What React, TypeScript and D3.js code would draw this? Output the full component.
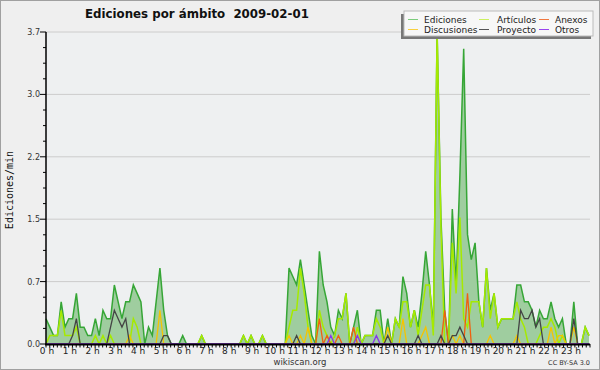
import React from "react";
import * as d3 from "d3";

// values per 10 minutes (edits/min), index 0 = 00:00
const ediciones = [
  0.3,0.2,0.1,0.1,0.5,0.2,0.3,0.3,0.6,0.2,0.2,0.1,
  0.1,0.3,0.1,0.4,0.3,0.3,0.7,0.5,0.3,0.5,0.5,0.7,
  0.6,0.5,0,0.2,0.1,0.5,0.9,0.4,0.1,0,0,0,
  0.1,0,0,0,0,0.1,0,0,0,0,0,0,
  0,0,0,0,0.1,0,0.1,0,0,0.1,0,0,
  0,0,0,0,0.9,0.8,0.7,1.0,0.7,0.4,0.1,0,
  1.1,0.7,0.5,0.2,0.1,0.4,0.3,0.6,0,0.2,0.4,0,
  0.1,0.1,0.1,0.4,0.4,0,0.3,0,0.3,0.2,0.8,0.6,
  0.2,0.4,0.2,0.6,1.1,0.7,0.2,3.7,1.5,0.4,0,1.6,
  0.7,2.0,3.5,1.3,1.0,1.2,0.5,0.2,0.9,0.4,0.6,0.2,
  0.3,0.3,0.3,0.3,0.7,0.7,0.5,0.5,0.4,0.2,0.4,0.3,
  0.3,0.5,0.3,0.2,0.3,0,0,0.5,0,0,0.2,0.1,
];
const articulos = [
  0,0.1,0.1,0.1,0.4,0.1,0.1,0.1,0.2,0,0,0,
  0,0.1,0,0.1,0,0.1,0,0,0,0,0,0.3,
  0.2,0,0,0,0,0,0,0,0,0,0,0,
  0,0,0,0,0,0.1,0,0,0,0,0,0,
  0,0,0,0,0.1,0,0.1,0,0,0.1,0,0,
  0,0,0,0,0.2,0.4,0.4,0.9,0.6,0.2,0,0,
  0.4,0.2,0.1,0,0.1,0.3,0.3,0.6,0,0,0.2,0,
  0.1,0.1,0.1,0.3,0.2,0,0,0,0.3,0.2,0.5,0.5,
  0.2,0.4,0.1,0.4,0.7,0.7,0.1,3.7,1.4,0,0,1.2,
  0.6,1.5,0.3,0.2,0.5,0.5,0.5,0.2,0.9,0.3,0.6,0.2,
  0.3,0.3,0.3,0.3,0.5,0.3,0.2,0,0,0,0.1,0.2,
  0.2,0.3,0.2,0,0.1,0,0,0,0,0,0.2,0.1,
];
const discusiones = [
  0,0,0,0,0,0,0,0,0,0,0,0,
  0,0,0,0,0,0,0,0,0,0,0.1,0,
  0,0,0,0,0,0,0.4,0,0,0,0,0,
  0,0,0,0,0,0,0,0,0,0,0,0,
  0,0,0,0,0,0,0,0,0,0,0,0,
  0,0,0,0,0.1,0,0,0.1,0,0.2,0,0,
  0,0,0,0,0,0,0,0,0,0,0,0,
  0,0,0,0,0,0,0.2,0,0,0,0.3,0,
  0,0,0,0.1,0.2,0,0,0,0,0,0,0.1,
  0,0.1,0,0,0,0,0,0,0,0.1,0,0,
  0,0,0,0,0.1,0,0,0,0,0,0,0,
  0,0.2,0,0.1,0.1,0,0,0.2,0,0,0,0,
];
const proyecto = [
  0,0,0,0,0,0,0,0.1,0.3,0,0,0,
  0,0,0,0,0,0.2,0.4,0.3,0.2,0.3,0,0,
  0,0,0,0,0,0,0,0.1,0.1,0,0,0,
  0,0,0,0,0,0,0,0,0,0,0,0,
  0,0,0,0,0,0,0,0,0,0,0,0,
  0,0,0,0,0,0,0.1,0,0,0,0,0,
  0,0,0,0,0,0,0,0,0,0,0,0,
  0,0,0,0,0,0,0.1,0,0,0,0,0,
  0,0,0.1,0,0,0,0,0,0.1,0,0,0.1,
  0.1,0.2,0.1,0,0,0,0,0,0,0,0,0,
  0,0,0,0,0,0.4,0.3,0.3,0.4,0.2,0.3,0,
  0,0,0,0,0,0,0,0.3,0,0,0,0,
];
const anexos = [
  0,0,0,0,0,0,0,0,0,0,0,0,
  0,0,0,0,0,0,0,0,0,0,0,0,
  0,0,0,0,0,0,0,0,0,0,0,0,
  0,0,0,0,0,0,0,0,0,0,0,0,
  0,0,0,0,0,0,0,0,0,0,0,0,
  0,0,0,0,0,0,0,0,0,0,0,0,
  0.3,0,0.1,0,0,0.1,0,0,0,0.2,0,0,
  0,0,0,0,0,0,0,0,0,0,0,0,
  0,0,0,0,0,0,0,0,0,0.4,0,0,
  0,0,0,0.6,0,0,0,0,0,0,0,0,
  0,0,0,0,0,0,0,0,0,0,0,0,
  0,0,0,0,0,0,0,0,0,0,0,0,
];
const otros = [
  0,0,0,0,0,0,0,0,0,0,0,0,
  0,0,0,0,0,0,0,0,0,0,0,0,
  0,0,0,0,0,0,0,0,0,0,0,0,
  0,0,0,0,0,0,0,0,0,0,0,0,
  0,0,0,0,0,0,0,0,0,0,0,0,
  0,0,0,0,0,0,0,0,0,0,0,0,
  0,0,0,0.1,0,0,0,0,0,0,0.1,0,
  0,0,0,0.1,0,0,0,0,0,0,0,0,
  0,0,0,0,0,0,0,0,0,0,0,0,
  0,0,0,0,0,0,0,0,0,0,0,0,
  0,0,0,0,0,0,0,0,0,0,0,0,
  0,0,0,0,0,0,0,0,0,0,0,0,
];

const hourLabels = [
  "0 h","1 h","2 h","3 h","4 h","5 h","6 h","7 h","8 h","9 h","10 h","11 h",
  "12 h","13 h","14 h","15 h","16 h","17 h","18 h","19 h","20 h","21 h","22 h","23 h",
];
const yTickLabels = ["0.0", "0.7", "1.5", "2.2", "3.0", "3.7"];
const yMax = 3.7;

const legendItems = [
  { name: "Ediciones", color: "#7ccc7c", col: 0, row: 0 },
  { name: "Artículos", color: "#ccf060", col: 1, row: 0 },
  { name: "Anexos", color: "#f07840", col: 2, row: 0 },
  { name: "Discusiones", color: "#f8d040", col: 0, row: 1 },
  { name: "Proyecto", color: "#555555", col: 1, row: 1 },
  { name: "Otros", color: "#9944ee", col: 2, row: 1 },
];

const W = 600, H = 370;
const X0 = 46, X1 = 589, XEND = 590, Y0 = 344, Y1 = 32;

export default function App() {
  const x = d3.scaleLinear().domain([0, 1430]).range([X0, X1]);
  const y = d3.scaleLinear().domain([0, yMax]).range([Y0, Y1]);
  const mk = (arr: number[]) =>
    d3.line<number>().x((_, i) => x(i * 10)).y((d) => y(d))(arr) || "";
  const area = d3
    .area<number>()
    .x((_, i) => x(i * 10))
    .y0(Y0)
    .y1((d) => y(d))(ediciones) || "";

  const majorVals = yTickLabels.map((_, k) => (yMax * k) / 5);
  const minorVals: number[] = [];
  for (let k = 0; k < 5; k++)
    for (let m = 1; m < 4; m++) minorVals.push((yMax * (k + m / 4)) / 5);

  const xTicks: number[] = [];
  for (let t = 0; t <= 1440; t += 10) xTicks.push(t);
  const xs = d3.scaleLinear().domain([0, 1440]).range([X0, XEND]);

  const legSw = [408, 479, 539];
  const legTx = [424, 497, 555];
  const legRows = [19.5, 29.5];

  return (
    <svg
      width={W}
      height={H}
      style={{ position: "fixed", left: 0, top: 0 }}
      fontFamily="DejaVu Sans, sans-serif"
    >
      <rect x={0.5} y={0.5} width={W - 1} height={H - 1} fill="#efefef" stroke="#a0a0a0" />
      <rect x={X0} y={Y1} width={XEND - X0} height={Y0 - Y1} fill="#eef0f1" />
      {majorVals.slice(1).map((v, k) => (
        <line key={k} x1={X0} x2={XEND} y1={y(v)} y2={y(v)} stroke="#cccccc" strokeWidth={1} />
      ))}
      <path d={area} fill="#9fcd9f" />
      <path d={mk(ediciones)} fill="none" stroke="#36a636" strokeWidth={1.5} />
      <path d={mk(articulos)} fill="none" stroke="#a6ea00" strokeWidth={1.5} />
      <path d={mk(discusiones)} fill="none" stroke="#f5c400" strokeWidth={1.3} />
      <path d={mk(anexos)} fill="none" stroke="#f06010" strokeWidth={1.3} />
      <path d={mk(proyecto)} fill="none" stroke="#444444" strokeWidth={1.3} />
      <path d={mk(otros)} fill="none" stroke="#8833ee" strokeWidth={1.3} />

      {/* y axis */}
      <line x1={X0} x2={X0} y1={Y1} y2={Y0} stroke="#000" strokeWidth={1.5} />
      {majorVals.map((v, k) => (
        <g key={k}>
          <line x1={X0 - 6} x2={X0} y1={y(v)} y2={y(v)} stroke="#000" />
          <text x={X0 - 6} y={y(v) + 3} fontSize={8} textAnchor="end" fill="#333">
            {yTickLabels[k]}
          </text>
        </g>
      ))}
      {minorVals.map((v, k) => (
        <line key={k} x1={X0 - 3} x2={X0} y1={y(v)} y2={y(v)} stroke="#000" />
      ))}
      <text
        transform={`translate(13,190) rotate(-90)`}
        fontSize={10}
        fontFamily="DejaVu Sans Mono, monospace"
        textAnchor="middle"
        fill="#111"
      >
        Ediciones/min
      </text>

      {/* x axis */}
      <line x1={X0 - 1} x2={XEND} y1={Y0 + 0.5} y2={Y0 + 0.5} stroke="#000" strokeWidth={2} />
      {xTicks.map((t) => (
        <line key={t} x1={xs(t)} x2={xs(t)} y1={Y0} y2={Y0 + 3.5} stroke="#000" />
      ))}
      {hourLabels.map((lab, h) => (
        <text key={h} x={x(h * 60) + 1} y={354} fontSize={9} textAnchor="middle" fill="#222">
          {lab}
        </text>
      ))}

      {/* titles */}
      <text x={85} y={18} fontSize={11.8} fontWeight="bold" fill="#111" style={{ whiteSpace: "pre" }}>
        {"Ediciones por ámbito  2009-02-01"}
      </text>
      <text x={300} y={365} fontSize={8.5} textAnchor="middle" fill="#333">
        wikiscan.org
      </text>
      <text x={590} y={365} fontSize={6.5} textAnchor="end" fill="#333">
        CC BY-SA 3.0
      </text>

      {/* legend */}
      <rect x={401} y={14} width={190} height={25} fill="#777" />
      <rect x={404} y={11} width={189} height={25} fill="#f7f7f7" stroke="#bbb" />
      {legendItems.map((it) => (
        <g key={it.name}>
          <line
            x1={legSw[it.col]}
            x2={legSw[it.col] + 10}
            y1={legRows[it.row]}
            y2={legRows[it.row]}
            stroke={it.color}
            strokeWidth={1}
          />
          <text x={legTx[it.col]} y={legRows[it.row] + 3.3} fontSize={9} fill="#222">
            {it.name}
          </text>
        </g>
      ))}
    </svg>
  );
}
